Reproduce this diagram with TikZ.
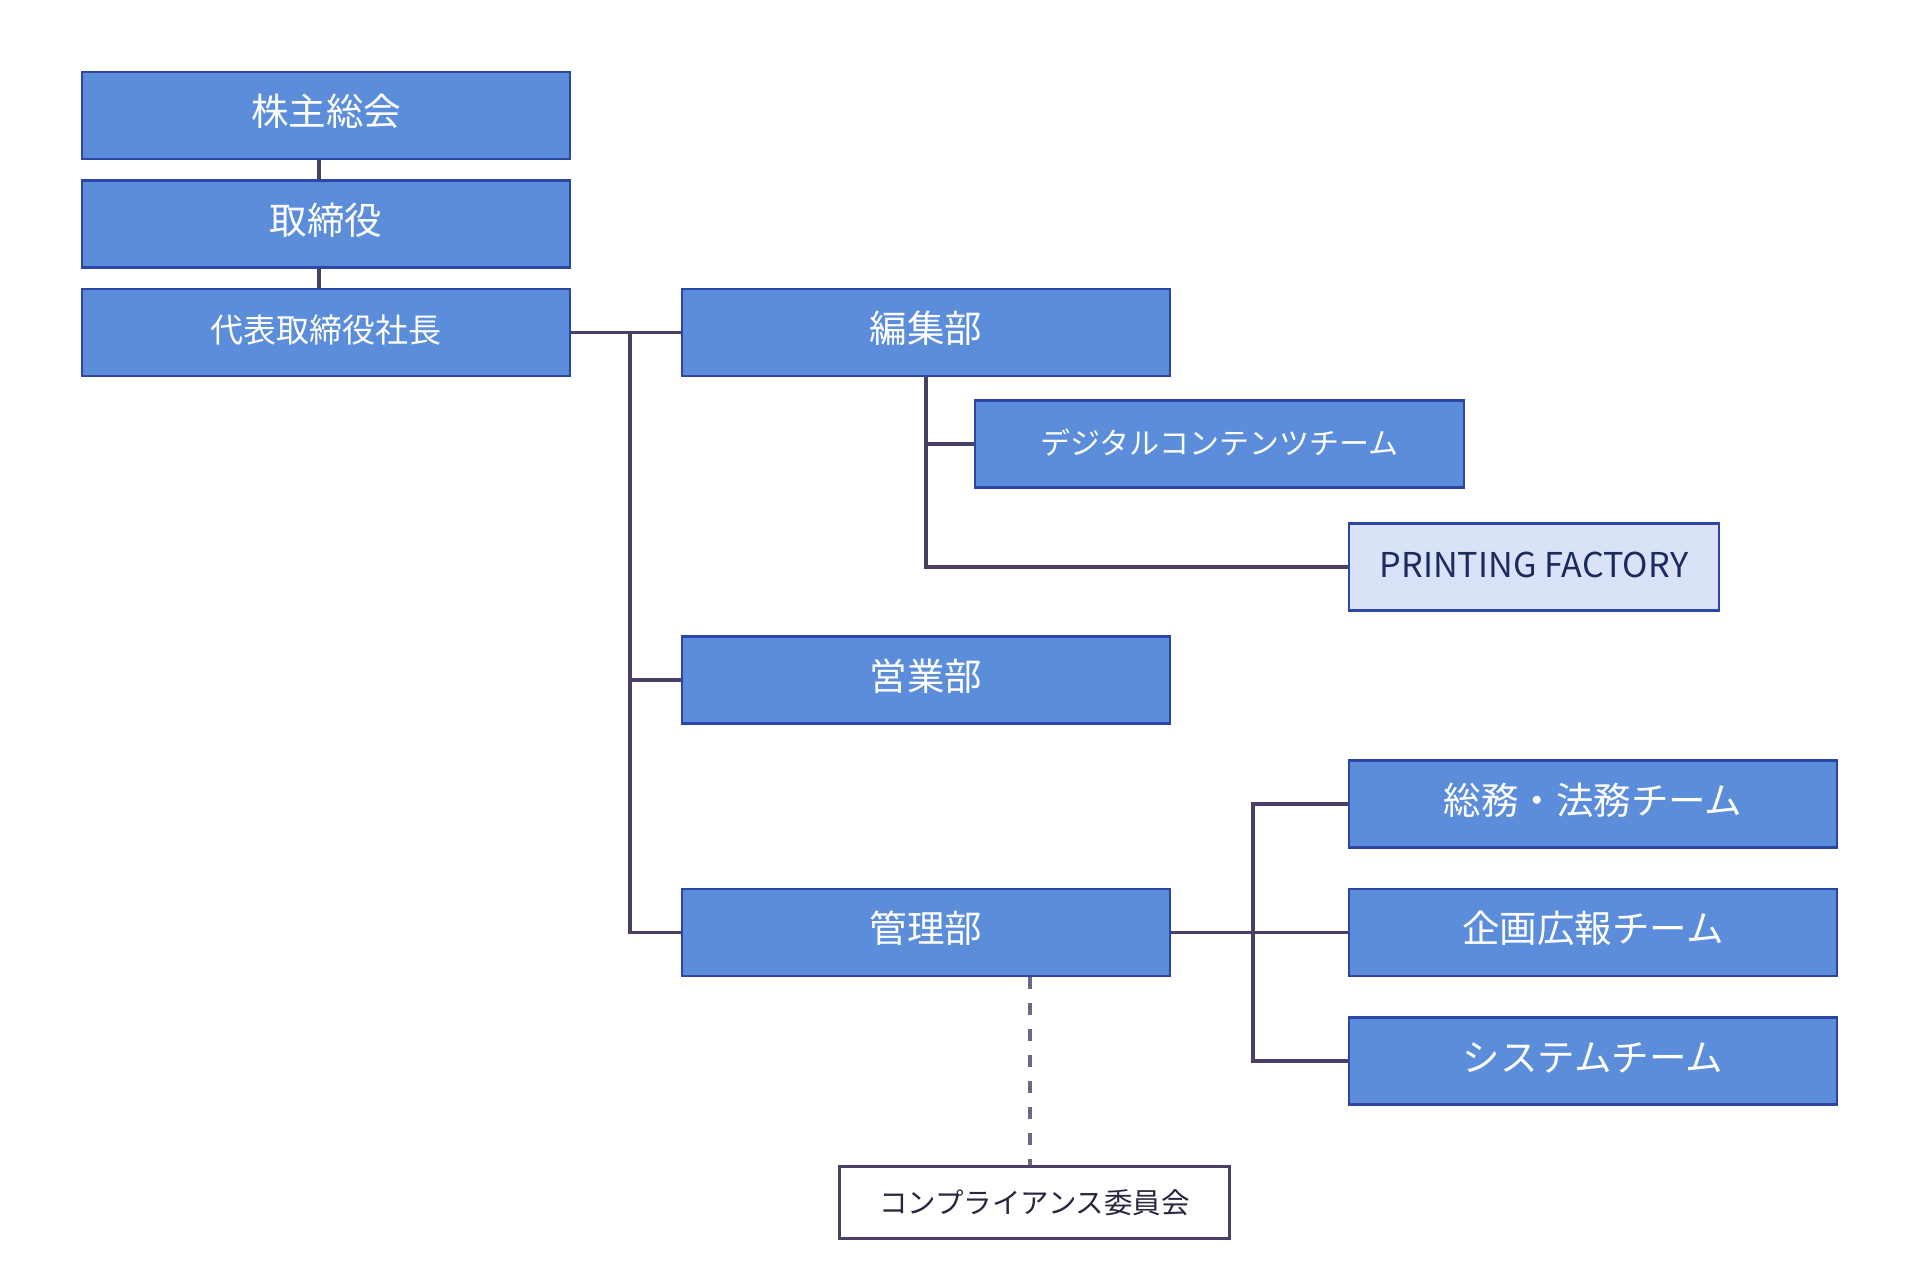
\documentclass[tikz,border=0pt]{standalone}
\usepackage{fontspec}
\setmainfont{Noto Sans CJK JP}
\definecolor{boxfill}{HTML}{5B8DDB}
\definecolor{boxdraw}{HTML}{2E45A8}
\definecolor{linec}{HTML}{4B3F66}
\definecolor{pfill}{HTML}{D9E2F7}
\definecolor{ptext}{HTML}{1C2A5E}
\definecolor{ctext}{HTML}{2B2540}
\begin{document}
\begin{tikzpicture}[x=1pt,y=-1pt,
  bluebox/.style={draw=boxdraw,line width=2.6pt,fill=boxfill,text=white,
    minimum width=488pt,minimum height=87pt,inner sep=0pt,
    text height=30pt,text depth=10pt,
    font=\fontsize{37.5}{42}\selectfont},
  lightbox/.style={draw=boxdraw,line width=2.6pt,fill=pfill,text=ptext,
    minimum width=370pt,minimum height=87pt,inner sep=0pt,
    text height=30pt,text depth=10pt,
    font=\fontsize{34.2}{40}\selectfont},
  compbox/.style={draw=linec,line width=2.6pt,fill=white,text=ctext,
    minimum width=390pt,minimum height=72pt,inner sep=0pt,
    font=\fontsize{28.5}{34}\selectfont},
  conn/.style={draw=linec,line width=3.7pt},
  dconn/.style={draw=linec!80,line width=3.5pt,dash pattern=on 12pt off 14pt}]
\useasboundingbox (0,0) rectangle (1913,1275);
\node[bluebox] (kabu) at (326,115.5) {株主総会};
\node[bluebox] (tori) at (326,224) {取締役};
\node[bluebox,font=\fontsize{33}{38}\selectfont] (daihyo) at (326,332.5) {代表取締役社長};
\node[bluebox] (hen) at (926,332.5) {編集部};
\node[bluebox,minimum width=489pt,font=\fontsize{30}{36}\selectfont] (digital) at (1219.5,444) {デジタルコンテンツチーム};
\node[lightbox] (printing) at (1534,567) {PRINTING FACTORY};
\node[bluebox] (eigyo) at (926,680) {営業部};
\node[bluebox] (kanri) at (926,932.5) {管理部};
\node[bluebox] (soumu) at (1593,804) {総務・法務チーム};
\node[bluebox] (kikaku) at (1593,932.5) {企画広報チーム};
\node[bluebox] (system) at (1593,1061) {システムチーム};
\node[compbox] (comp) at (1034.5,1202.5) {コンプライアンス委員会};
% junction coordinates
\coordinate (trunk) at (630,332.5);
\coordinate (bus) at (1253,932.5);
% vertical stack
\draw[conn] ([xshift=-7pt]kabu.south) -- ([xshift=-7pt]tori.north);
\draw[conn] ([xshift=-7pt]tori.south) -- ([xshift=-7pt]daihyo.north);
% president to departments
\draw[conn] (daihyo.east) -- (hen.west);
\draw[conn] (trunk) |- (kanri.west);
\draw[conn] (trunk) |- (eigyo.west);
% editorial
\draw[conn] (hen.south) |- (printing.west);
\draw[conn] (hen.south) |- (digital.west);
% admin
\draw[conn] (kanri.east) -- (kikaku.west);
\draw[conn] (bus) |- (soumu.west);
\draw[conn] (bus) |- (system.west);
% dashed
\draw[dconn] ([xshift=104pt]kanri.south) -- ([xshift=104pt]kanri.south |- comp.north);
\end{tikzpicture}
\end{document}
